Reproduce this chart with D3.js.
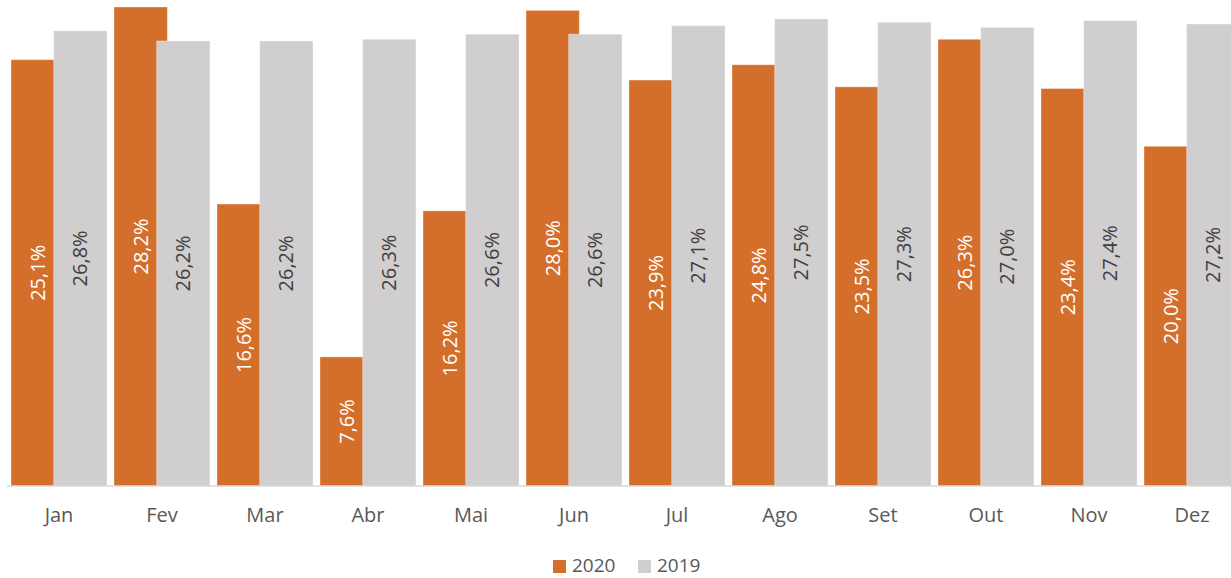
<!DOCTYPE html>
<html>
<head>
<meta charset="utf-8">
<script src="https://cdn.jsdelivr.net/npm/d3@7"></script>
<style>
  body { margin: 0; background: #fff; }
  text { font-family: "Open Sans", "Noto Sans", sans-serif; }
</style>
</head>
<body>
<div id="chart"></div>
<script>
const width = 1231;
const height = 578;

// data
const months = ["Jan", "Fev", "Mar", "Abr", "Mai", "Jun", "Jul", "Ago", "Set", "Out", "Nov", "Dez"];
const values2020 = [25.1, 28.2, 16.6, 7.6, 16.2, 28.0, 23.9, 24.8, 23.5, 26.3, 23.4, 20.0];
const values2019 = [26.8, 26.2, 26.2, 26.3, 26.6, 26.6, 27.1, 27.5, 27.3, 27.0, 27.4, 27.2];
const seriesNames = ["2020", "2019"];
const seriesColors = ["#D46F2B", "#D0CECE"];
const labelColors = ["#ffffff", "#404040"];

const data = months.map((m, i) => ({ month: m, v2020: values2020[i], v2019: values2019[i] }));

const fmt = v => d3.format(".1f")(v).replace(".", ",") + "%";

// scales
const xScale = d3.scaleBand()
    .domain(months)
    .range([7.5, 1243.5])
    .paddingInner(0.068)
    .paddingOuter(0.034);

const yScale = d3.scaleLinear()
    .domain([0, 28.2])
    .range([486, 7]);

// bars overlap by 20% (excel style)
const barW = xScale.bandwidth() / 1.8;
const offsets = [0, barW * 0.8];

const svg = d3.select("#chart").append("svg").attr("width", width).attr("height", height);

const keys = ["v2020", "v2019"];

keys.forEach((k, s) => {
    const barG = svg.append("g").attr("class", "series-" + seriesNames[s]);

    barG.selectAll("rect")
        .data(data)
        .join("rect")
        .attr("x", d => xScale(d.month) + offsets[s])
        .attr("y", d => yScale(d[k]))
        .attr("width", barW)
        .attr("height", d => yScale(0) - yScale(d[k]))
        .attr("fill", seriesColors[s])
        .attr("stroke", "rgba(255,255,255,0.35)")
        .attr("stroke-width", 1);
});

// labels on top of all bars
keys.forEach((k, s) => {
    svg.append("g").selectAll("text")
        .data(data)
        .join("text")
        .attr("transform", d => {
            const cx = xScale(d.month) + offsets[s] + barW / 2;
            const cy = (yScale(d[k]) + yScale(0)) / 2;
            return `translate(${cx},${cy}) rotate(-90)`;
        })
        .attr("text-anchor", "middle")
        .attr("dy", "0.35em")
        .attr("font-size", 20)
        .attr("fill", labelColors[s])
        .text(d => fmt(d[k]));
});

// x axis
const xAxis = d3.axisBottom(xScale).tickSize(0).tickPadding(22);
const axisG = svg.append("g")
    .attr("transform", `translate(0,${yScale(0)})`)
    .call(xAxis);
axisG.select(".domain").attr("stroke", "#D9D9D9").attr("stroke-width", 1.5).attr("d", "M7,0H1243.5");
axisG.selectAll("text")
    .attr("font-size", 20)
    .attr("fill", "#595959")
    .attr("font-family", "'Open Sans', 'Noto Sans', sans-serif");

// legend
const legendG = svg.append("g").attr("transform", "translate(553,565)");
const legItem = legendG.selectAll("g")
    .data(seriesNames)
    .join("g")
    .attr("transform", (d, i) => `translate(${i * 85},0)`);

legItem.append("rect")
    .attr("x", 0)
    .attr("y", -5)
    .attr("width", 13)
    .attr("height", 13)
    .attr("fill", (d, i) => seriesColors[i]);

legItem.append("text")
    .attr("x", 19)
    .attr("y", 0)
    .attr("dy", "0.35em")
    .attr("font-size", 19)
    .attr("fill", "#595959")
    .text(d => d);
</script>
</body>
</html>
